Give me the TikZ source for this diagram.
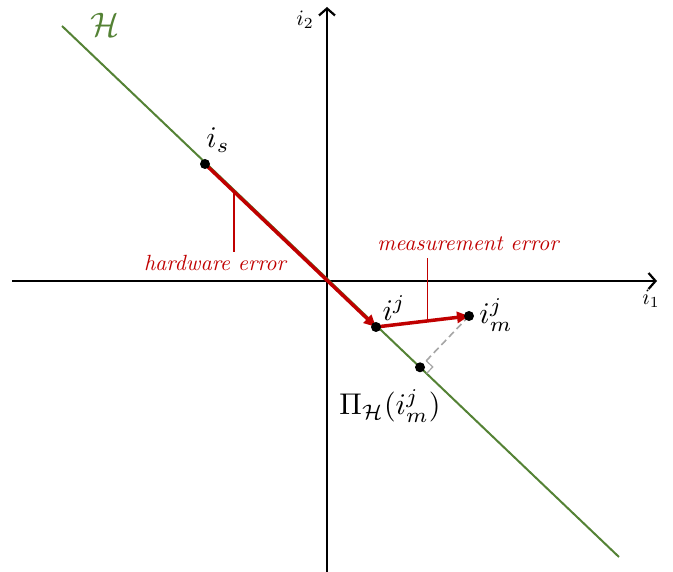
\documentclass[tikz,border=0pt]{standalone}
\usetikzlibrary{calc,arrows.meta}
\definecolor{hgreen}{RGB}{84,130,53}
\definecolor{errred}{RGB}{192,0,0}
\definecolor{projgray}{RGB}{166,166,166}
\begin{document}
\begin{tikzpicture}[x=1pt, y=-1pt,
  axis/.style={line width=2.2pt, -{Straight Barb[length=7pt, width=16pt, line width=2.2pt]}},
  dot/.style={circle, fill=black, inner sep=0pt, minimum size=10pt},
  ptlabel/.style={scale=3, inner sep=0pt},
  axlabel/.style={scale=2.2, inner sep=0pt},
  errarrow/.style={errred, line width=3.5pt, -{Triangle[length=12pt, width=11pt]}},
  errtick/.style={errred, line width=1.8pt},
  errlabel/.style={errred, font=\itshape, scale=2.2, inner sep=0pt}]
\useasboundingbox (0,0) rectangle (673,572);
% axes
\coordinate (xl) at (12,281);
\coordinate (xr) at (657,281);
\coordinate (yb) at (327,572);
\coordinate (yt) at (327,7);
\draw[axis] (xl) -- (xr);
\draw[axis] (yb) -- (yt);
\node[axlabel] (i1) at (651,299) {$i_1$};
\node[axlabel] (i2) at (305,20) {$i_2$};
% hyperplane
\coordinate (Htop) at (62,26);
\coordinate (Hbot) at (619,557);
\draw[hgreen, line width=2pt] (Htop) -- (Hbot);
\node[hgreen, scale=3.4] (Hlab) at (105,25) {$\mathcal{H}$};
% points
\coordinate (is) at (205,164);
\coordinate (ij) at (376,327);
\coordinate (im) at (469,316);
\coordinate (pr) at ($(Htop)!(im)!(Hbot)$);
% projection
\draw[projgray, line width=1.6pt, dash pattern=on 7pt off 4pt] (im) -- (pr);
\coordinate (pa) at ($(pr)!9pt!(im)$);
\coordinate (pc) at ($(pr)!9pt!(Hbot)$);
\draw[projgray, line width=1.2pt] (pa) -- ($(pa)+(pc)-(pr)$) -- (pc);
% errors
\draw[errarrow] (is) -- (ij);
\draw[errarrow] (ij) -- (im);
\coordinate (hwpt) at ($(is)!0.17!(ij)$);
\coordinate (mspt) at ($(ij)!0.553!(im)$);
\coordinate (hwend) at ($(hwpt)+(0,60)$);
\coordinate (msend) at ($(mspt)+(0,-63)$);
\draw[errtick] (hwpt) -- (hwend);
\draw[errtick] (mspt) -- (msend);
\node[errlabel] (hwlab) at (215,263) {hardware error};
\node[errlabel] (mslab) at (468,244) {measurement error};
% dots and labels
\node[dot] (isdot) at (is) {};
\node[dot] (ijdot) at (ij) {};
\node[dot] (imdot) at (im) {};
\node[dot] (prdot) at (pr) {};
\node[ptlabel] (islab) at ($(is)+(13,-24)$) {$i_s$};
\node[ptlabel] (ijlab) at ($(ij)+(18,-19)$) {$i^j$};
\node[ptlabel] (imlab) at ($(im)+(27,-1)$) {$i_m^j$};
\node[ptlabel] (prlab) at (390,406) {$\Pi_{\mathcal{H}}(i_m^j)$};
\end{tikzpicture}
\end{document}
